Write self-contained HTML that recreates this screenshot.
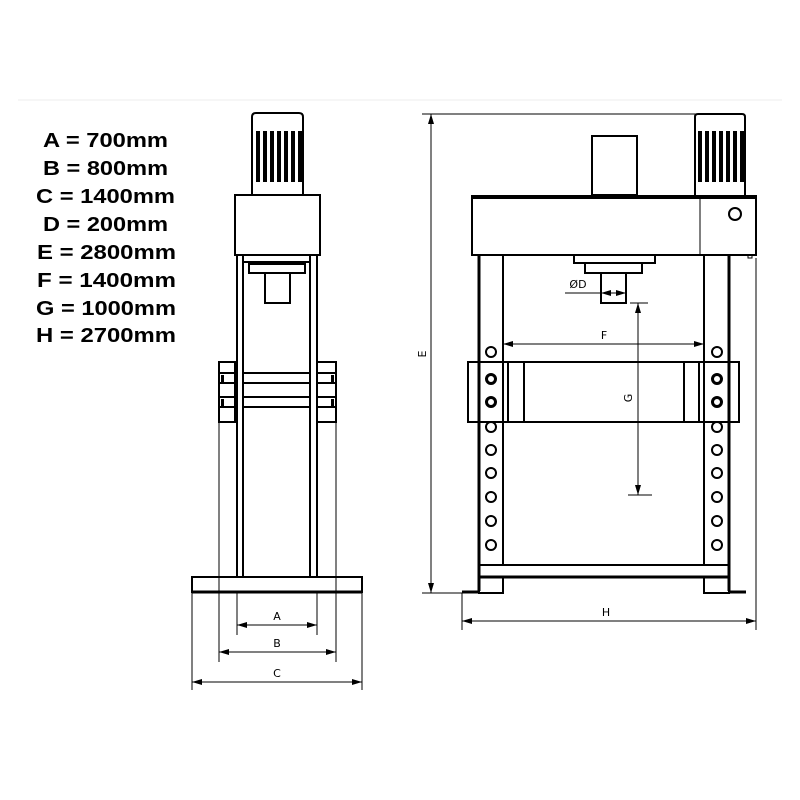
<!DOCTYPE html>
<html><head><meta charset="utf-8"><style>html,body{margin:0;padding:0;background:#fff}svg{display:block}</style></head>
<body>
<svg width="800" height="800" viewBox="0 0 800 800" xmlns="http://www.w3.org/2000/svg">
<defs>
<marker id="ar" viewBox="0 0 10 6" refX="10" refY="3" markerWidth="10" markerHeight="6" orient="auto-start-reverse" markerUnits="userSpaceOnUse"><path d="M0,0 L10,3 L0,6 z" fill="#000"/></marker>
</defs>
<line x1="18" y1="100" x2="782" y2="100" stroke="#eee" stroke-width="1"/>
<g font-family="Liberation Sans, Arial, sans-serif" font-weight="bold" font-size="20" fill="#000" text-anchor="start">
<text x="43" y="147" textLength="125" lengthAdjust="spacingAndGlyphs">A = 700mm</text>
<text x="43" y="175" textLength="125" lengthAdjust="spacingAndGlyphs">B = 800mm</text>
<text x="36" y="203" textLength="139" lengthAdjust="spacingAndGlyphs">C = 1400mm</text>
<text x="43" y="231" textLength="125" lengthAdjust="spacingAndGlyphs">D = 200mm</text>
<text x="37" y="259" textLength="139" lengthAdjust="spacingAndGlyphs">E = 2800mm</text>
<text x="37" y="287" textLength="139" lengthAdjust="spacingAndGlyphs">F = 1400mm</text>
<text x="36" y="315" textLength="140" lengthAdjust="spacingAndGlyphs">G = 1000mm</text>
<text x="36" y="342" textLength="140" lengthAdjust="spacingAndGlyphs">H = 2700mm</text>
</g>

<!-- LEFT VIEW -->
<g fill="none" stroke="#000" stroke-width="2">
<path d="M252,195 V117 Q252,113 256,113 H299 Q303,113 303,117 V195"/>
<rect x="235" y="195" width="85" height="60"/>
<line x1="237" y1="255" x2="237" y2="577"/><line x1="243" y1="255" x2="243" y2="577"/>
<line x1="310" y1="255" x2="310" y2="577"/><line x1="317" y1="255" x2="317" y2="577"/>
<line x1="243" y1="262" x2="310" y2="262"/>
<rect x="249" y="264" width="56" height="9"/>
<rect x="265" y="273" width="25" height="30"/>
<rect x="219" y="362" width="16" height="60"/>
<rect x="317" y="362" width="19" height="60"/>
<line x1="243" y1="373" x2="310" y2="373"/><line x1="243" y1="383" x2="310" y2="383"/>
<line x1="243" y1="397" x2="310" y2="397"/><line x1="243" y1="407" x2="310" y2="407"/>
<line x1="219" y1="373" x2="235" y2="373"/><line x1="219" y1="383" x2="235" y2="383"/>
<line x1="219" y1="397" x2="235" y2="397"/><line x1="219" y1="407" x2="235" y2="407"/>
<line x1="317" y1="373" x2="336" y2="373"/><line x1="317" y1="383" x2="336" y2="383"/>
<line x1="317" y1="397" x2="336" y2="397"/><line x1="317" y1="407" x2="336" y2="407"/>
<rect x="192" y="577" width="170" height="15"/>
<line x1="192" y1="592" x2="362" y2="592" stroke-width="3"/>
</g>
<g fill="#000">
<rect x="256" y="131" width="4" height="51"/><rect x="263" y="131" width="4" height="51"/><rect x="270" y="131" width="4" height="51"/><rect x="277" y="131" width="4" height="51"/><rect x="284" y="131" width="4" height="51"/><rect x="291" y="131" width="4" height="51"/><rect x="298" y="131" width="4" height="51"/>
<rect x="221" y="375" width="3" height="7"/><rect x="221" y="399" width="3" height="7"/>
<rect x="331" y="375" width="3" height="7"/><rect x="331" y="399" width="3" height="7"/>
</g>
<g stroke="#000" stroke-width="1" fill="none">
<line x1="237" y1="593" x2="237" y2="635"/><line x1="317" y1="593" x2="317" y2="635"/>
<line x1="219" y1="422" x2="219" y2="662"/><line x1="336" y1="422" x2="336" y2="662"/>
<line x1="192" y1="593" x2="192" y2="690"/><line x1="362" y1="593" x2="362" y2="690"/>
<line x1="237" y1="625" x2="317" y2="625" marker-start="url(#ar)" marker-end="url(#ar)"/>
<line x1="219" y1="652" x2="336" y2="652" marker-start="url(#ar)" marker-end="url(#ar)"/>
<line x1="192" y1="682" x2="362" y2="682" marker-start="url(#ar)" marker-end="url(#ar)"/>
</g>
<g font-family="DejaVu Sans, sans-serif" font-size="11" fill="#000" text-anchor="middle">
<text x="277" y="620">A</text><text x="277" y="647">B</text><text x="277" y="677">C</text>
</g>

<!-- RIGHT VIEW -->
<g fill="none" stroke="#000" stroke-width="2">
<rect x="592" y="136" width="45" height="59"/>
<path d="M695,195 V117 Q695,114 698,114 H742 Q745,114 745,117 V195"/>
<rect x="472" y="196" width="284" height="59"/>
<line x1="471" y1="197" x2="757" y2="197" stroke-width="4"/>
<line x1="700" y1="197" x2="700" y2="255" stroke-width="1"/>
<circle cx="735" cy="214" r="6"/>
<rect x="748" y="255" width="4" height="3" stroke-width="1"/>
<line x1="479" y1="255" x2="479" y2="591" stroke-width="3"/><line x1="503" y1="255" x2="503" y2="565"/>
<line x1="704" y1="255" x2="704" y2="565"/><line x1="729" y1="255" x2="729" y2="591" stroke-width="3"/>
<rect x="574" y="255" width="81" height="8"/>
<rect x="585" y="263" width="57" height="10"/>
<rect x="601" y="273" width="25" height="30"/>
<rect x="468" y="362" width="271" height="60"/>
<rect x="468" y="362" width="56" height="60"/><line x1="508" y1="362" x2="508" y2="422"/>
<rect x="684" y="362" width="55" height="60"/><line x1="699" y1="362" x2="699" y2="422"/>
<line x1="479" y1="565" x2="729" y2="565"/>
<line x1="479" y1="577" x2="729" y2="577" stroke-width="3"/>
<rect x="479" y="577" width="24" height="16"/>
<rect x="704" y="577" width="25" height="16"/>
<line x1="462" y1="592" x2="480" y2="592" stroke-width="3"/>
<line x1="728" y1="592" x2="746" y2="592" stroke-width="3"/>
<circle cx="491" cy="352" r="5"/><circle cx="717" cy="352" r="5"/>
<circle cx="491" cy="379" r="4.5" stroke-width="3"/><circle cx="717" cy="379" r="4.5" stroke-width="3"/>
<circle cx="491" cy="402" r="4.5" stroke-width="3"/><circle cx="717" cy="402" r="4.5" stroke-width="3"/>
<circle cx="491" cy="427" r="5"/><circle cx="717" cy="427" r="5"/>
<circle cx="491" cy="450" r="5"/><circle cx="717" cy="450" r="5"/>
<circle cx="491" cy="473" r="5"/><circle cx="717" cy="473" r="5"/>
<circle cx="491" cy="497" r="5"/><circle cx="717" cy="497" r="5"/>
<circle cx="491" cy="521" r="5"/><circle cx="717" cy="521" r="5"/>
<circle cx="491" cy="545" r="5"/><circle cx="717" cy="545" r="5"/>
</g>
<g fill="#000">
<rect x="698" y="131" width="4" height="51"/><rect x="705" y="131" width="4" height="51"/><rect x="712" y="131" width="4" height="51"/><rect x="719" y="131" width="4" height="51"/><rect x="726" y="131" width="4" height="51"/><rect x="733" y="131" width="4" height="51"/><rect x="740" y="131" width="4" height="51"/>
</g>
<g stroke="#000" stroke-width="1" fill="none">
<line x1="422" y1="114" x2="700" y2="114"/>
<line x1="422" y1="593" x2="462" y2="593"/>
<line x1="431" y1="114" x2="431" y2="593" marker-start="url(#ar)" marker-end="url(#ar)"/>
<line x1="565" y1="293" x2="601" y2="293"/>
<line x1="601" y1="293" x2="626" y2="293" marker-start="url(#ar)" marker-end="url(#ar)"/>
<line x1="630" y1="303" x2="648" y2="303"/>
<line x1="628" y1="495" x2="652" y2="495"/>
<line x1="638" y1="303" x2="638" y2="495" marker-start="url(#ar)" marker-end="url(#ar)"/>
<line x1="503" y1="344" x2="704" y2="344" marker-start="url(#ar)" marker-end="url(#ar)"/>
<line x1="462" y1="593" x2="462" y2="630"/>
<line x1="756" y1="258" x2="756" y2="630"/>
<line x1="462" y1="621" x2="756" y2="621" marker-start="url(#ar)" marker-end="url(#ar)"/>
</g>
<g font-family="DejaVu Sans, sans-serif" font-size="11" fill="#000" text-anchor="middle">
<text x="578" y="288">ØD</text>
<text x="604" y="339">F</text>
<text x="606" y="616">H</text>
<text transform="translate(426,354) rotate(-90)">E</text>
<text transform="translate(632,398) rotate(-90)">G</text>
</g>
</svg>
</body></html>
